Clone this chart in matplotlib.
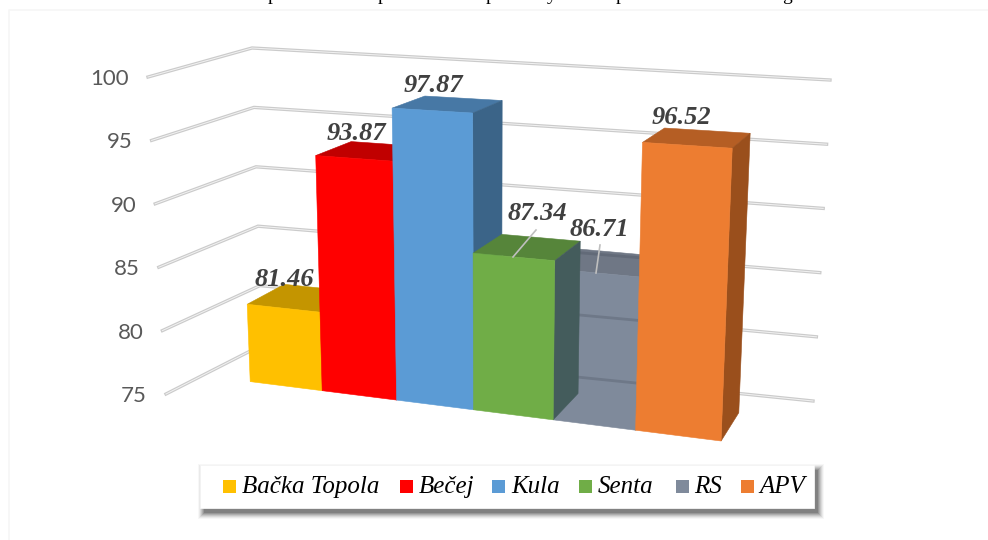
import numpy as np
import matplotlib
matplotlib.use("Agg")
import matplotlib.pyplot as plt
from matplotlib.patches import Polygon, Rectangle

categories = ["Bačka Topola", "Bečej", "Kula", "Senta", "RS", "APV"]
values = [81.46, 93.87, 97.87, 87.34, 86.71, 96.52]
ticks = [75, 80, 85, 90, 95, 100]
front = ["#FFC000", "#FF0000", "#5B9BD5", "#70AD47", "#7F8A9B", "#ED7D31"]
top = ["#C49500", "#C00000", "#4778A5", "#56853A", "#6F7785", "#B55E24"]
side = ["#A87F00", "#A00000", "#3B6488", "#445C5C", "#5F6875", "#9A4F1C"]
label_xy = [(284, 280), (356, 133), (433, 85), (537, 213), (599, 229), (681, 118)]
leaders = {3: ((536, 230), (513, 257)), 4: ((600, 245), (596, 273))}
legend_swatch_x = [223, 400, 492, 579, 676, 741]
legend_text_x = [242, 419, 511, 598, 694, 759]
BASE = 75

# Camera calibration: (category edge, value, depth) -> pixel, solved by least squares
cal = np.array([
    (0, 75, 0, 249, 382), (3, 75, 0, 473, 410), (4, 75, 0, 553, 419), (5, 75, 0, 636, 430),
    (6, 75, 0, 721, 441), (6, 75, 1, 739, 413), (0, 81.46, 0, 247, 304), (0, 81.46, 1, 286, 285),
    (1, 93.87, 0, 316, 156), (1, 93.87, 1, 352, 141), (2, 97.87, 0, 393, 108), (3, 97.87, 0, 473, 113),
    (3, 97.87, 1, 502, 100), (2, 97.87, 1, 422, 96), (3, 87.34, 0, 473, 253), (4, 87.34, 0, 555, 260),
    (4, 87.34, 1, 580, 242), (3, 87.34, 1, 502, 234), (5, 96.52, 0, 643, 143), (6, 96.52, 0, 732, 149),
    (6, 96.52, 1, 750, 133), (5, 96.52, 1, 665, 128),
])
A, b = [], []
for u, v, d, x, y in cal:
    A.append([u, v, d, 1, 0, 0, 0, 0, -x*u, -x*v, -x*d]); b.append(x)
    A.append([0, 0, 0, 0, u, v, d, 1, -y*u, -y*v, -y*d]); b.append(y)
A = np.array(A, float)
scale = np.abs(A).max(axis=0)
sol = np.linalg.lstsq(A/scale, np.array(b, float), rcond=None)[0]/scale
P = np.append(sol, 1).reshape(3, 4)


def project(u, v, d):
    p = P @ np.array([u, v, d, 1.0])
    return p[0]/p[2], p[1]/p[2]


# Wall grid corners at the 100 and 75 levels (front-left, back-left, right)
wall_100 = [(148, 77), (252, 48), (830, 80)]
wall_75 = [(166, 394), (262, 345), (813, 401)]


def wall(v):
    t = (100 - v)/25
    return [(a[0] + (c[0]-a[0])*t, a[1] + (c[1]-a[1])*t) for a, c in zip(wall_100, wall_75)]


plt.rcParams["font.family"] = ["Liberation Serif", "DejaVu Serif"]
fig = plt.figure(figsize=(9.88, 5.40), dpi=100, facecolor="white")
ax = fig.add_axes([0, 0, 1, 1])
ax.set_xlim(0, 988)
ax.set_ylim(540, 0)
ax.axis("off")

# Faint outer frame
ax.plot([9, 9, 988], [540, 10, 10], color="#F6F6F6", lw=1.2, zorder=0)

# Clipped descenders of the line above the chart
for ch, x in zip("pppypg", [272, 382, 490, 552, 620, 787]):
    ax.text(x, -0.5, ch, ha="center", va="baseline", fontsize=14, color="black", clip_on=True)

# Gridlines
for t in ticks:
    pts = np.array(wall(t))
    ax.plot(pts[:, 0], pts[:, 1], color="#CBCBCB", lw=2.4, zorder=1, solid_joinstyle="miter")
    ax.plot(pts[:, 0], pts[:, 1], color="#F2F2F2", lw=0.7, zorder=1.1)
    ax.text(pts[0, 0]-19, pts[0, 1]+2, str(t), ha="right", va="center", fontsize=16,
            family="Lato", color="#595959", zorder=2)


def draw_bar(i, z):
    v = values[i]
    u0, u1 = i, i+1
    f = [project(u0, BASE, 0), project(u1, BASE, 0), project(u1, v, 0), project(u0, v, 0)]
    tp = [project(u0, v, 0), project(u1, v, 0), project(u1, v, 1), project(u0, v, 1)]
    s = [project(u1, BASE, 0), project(u1, BASE, 1), project(u1, v, 1), project(u1, v, 0)]
    polys = []
    for pts, col in ((tp, top[i]), (s, side[i]), (f, front[i])):
        pg = Polygon(pts, closed=True, facecolor=col, edgecolor=col, lw=0.4, zorder=z)
        ax.add_patch(pg)
        polys.append(pg)
    return polys


draw_bar(0, 3)
draw_bar(1, 4)
draw_bar(2, 5)
rs = draw_bar(4, 6)
# Gridlines showing through the translucent RS bar
for t in (75, 80, 85):
    pts = np.array(wall(t))
    for pg, col in ((rs[2], "#6E7888"), (rs[0], "#626A78")):
        ln, = ax.plot(pts[:, 0], pts[:, 1], color=col, lw=2, zorder=6.5)
        ln.set_clip_path(pg)
draw_bar(3, 7)
draw_bar(5, 8)

# Data labels and leader lines
for i, (x, y) in enumerate(label_xy):
    ax.text(x, y, f"{values[i]:.2f}", ha="center", va="center", fontsize=19, fontweight="bold",
            fontstyle="italic", color="#404040", zorder=10)
for i, (a, c) in leaders.items():
    ax.plot([a[0], c[0]], [a[1], c[1]], color="#BFBFBF", lw=1.2, zorder=9)

# Legend box with soft shadow
lx, ly, lw_, lh = 200, 465, 614, 43
for g, al in zip([6, 5, 4, 3, 2, 1, 0], [.03, .05, .07, .09, .11, .13, .15]):
    ax.add_patch(Rectangle((lx+4-g, ly+5-g), lw_+2*g, lh+2*g, facecolor="black", alpha=al, edgecolor="none", zorder=11))
ax.add_patch(Rectangle((lx, ly), lw_, lh, facecolor="white", edgecolor="#F4F4F4", lw=0.6, zorder=12))
for name, col, sx, tx in zip(categories, front, legend_swatch_x, legend_text_x):
    ax.add_patch(Rectangle((sx, 480), 13, 13, facecolor=col, edgecolor="none", zorder=13))
    ax.text(tx, 487, name, ha="left", va="center", fontsize=18, fontstyle="italic", color="black", zorder=13)

fig.savefig("out.png", dpi=100, facecolor="white")
